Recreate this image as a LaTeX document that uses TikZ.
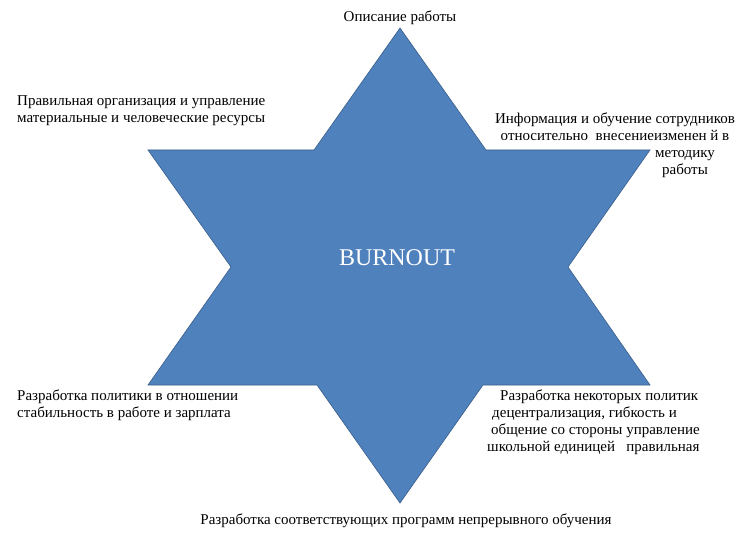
\documentclass[tikz,border=0pt]{standalone}
\usepackage{fontspec}
\setmainfont{Liberation Serif}
\usepackage{tikz}
\definecolor{starcol}{RGB}{79,129,189}
\definecolor{starline}{RGB}{56,93,138}

\begin{document}
\begin{tikzpicture}[x=1pt,y=-1pt,
    lbl/.style={inner sep=0pt, font=\fontsize{15}{17}\selectfont, text=black}]

    % Canvas
    \useasboundingbox (0,0) rectangle (749,553);

    % Star made of two triangles
    \fill[starcol, draw=starline, line width=0.6pt]
        (400,28) -- (314,150) -- (148,150) -- (231,267) -- (148,385) -- (317,385)
        -- (400,503) -- (483,385) -- (650,385) -- (568,267) -- (650,150) -- (486,150) -- cycle;
    \node[lbl, text=white, font=\fontsize{24}{28}\selectfont] (burnout) at (397,258) {BURNOUT};

    % Labels round the star
    \node[lbl] (top) at (400,18) {Описание работы};
    \node[lbl, anchor=north west, align=left] (upleft) at (17,95)
        {Правильная организация и управление\\материальные и человеческие ресурсы};
    \node[lbl, anchor=north, align=center] (upright) at (615,113)
        {Информация и обучение сотрудников\\относительно\ \ внесениеизменен й в};
    \node[lbl, anchor=north, align=center] (upright2) at (685,150)
        {методику\\работы};
    \node[lbl, anchor=north west, align=left] (lowleft) at (17,390)
        {Разработка политики в отношении\\стабильность в работе и зарплата};
    \node[lbl, anchor=north west, align=left] (lowright) at (487,390)
        {\hspace{13pt}Разработка некоторых политик\\\hspace{5pt}децентрализация, гибкость и\\\hspace{4pt}общение со стороны управление\\школьной единицей\ \ \ правильная};
    \node[lbl] (bottom) at (406,521) {Разработка соответствующих программ непрерывного обучения};

\end{tikzpicture}
\end{document}
